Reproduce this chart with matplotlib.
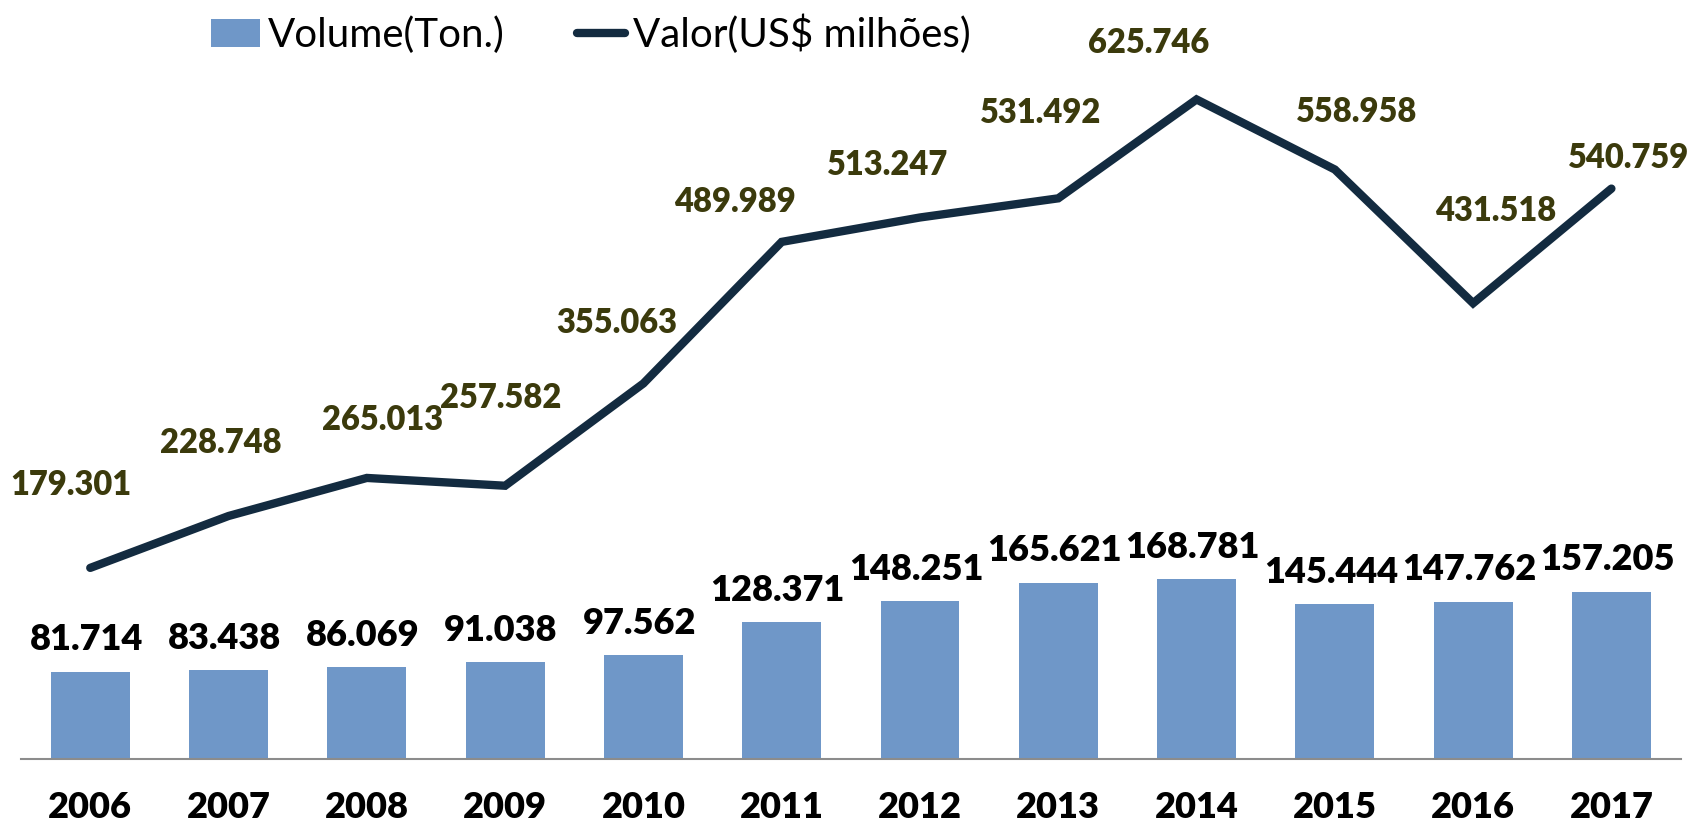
import numpy as np
import matplotlib.pyplot as plt
from matplotlib.lines import Line2D
from matplotlib.patches import Patch

plt.rcParams['font.family'] = ['Lato', 'DejaVu Sans']

# Dados
anos = ['2006', '2007', '2008', '2009', '2010', '2011',
        '2012', '2013', '2014', '2015', '2016', '2017']
volume = [81.714, 83.438, 86.069, 91.038, 97.562, 128.371,
          148.251, 165.621, 168.781, 145.444, 147.762, 157.205]
valor = [179.301, 228.748, 265.013, 257.582, 355.063, 489.989,
         513.247, 531.492, 625.746, 558.958, 431.518, 540.759]

# deslocamento dos rótulos da linha (pixels)
offsets = [(-19, 83), (-8, 73), (16, 58), (-4, 88), (-27, 60), (-47, 40),
           (-32, 52), (-18, 85), (-48, 56), (22, 58), (23, 92), (17, 31)]

cor_barra = '#6f97c8'
cor_linha = '#132b40'
cor_rotulo = '#3b3a0c'

fig = plt.figure(figsize=(16.89, 8.21), dpi=100)
ax = fig.add_axes([0.0125, 0.0755, 0.9825, 0.851])
x = np.arange(len(anos))

ax.bar(x, volume, width=0.57, color=cor_barra, zorder=2)
ax.set_ylim(0, 656)
ax.set_xlim(-0.5, len(anos) - 0.5)
for xi, v in zip(x, volume):
    ax.annotate(f'{v:.3f}', (xi, v), xytext=(-4, 32), textcoords='offset pixels',
                ha='center', va='center', fontsize=26, fontweight='heavy', color='black')

ax.set_xticks(x)
ax.set_xticklabels(anos, fontsize=26, fontweight='heavy')
ax.tick_params(axis='x', length=0, pad=23)
ax.set_yticks([])
for s in ['top', 'right', 'left']:
    ax.spines[s].set_visible(False)
ax.spines['bottom'].set_color('#8c8c8c')
ax.spines['bottom'].set_linewidth(1.5)

ax2 = ax.twinx()
ax2.plot(x, valor, color=cor_linha, linewidth=6, solid_capstyle='round',
         solid_joinstyle='miter', zorder=3)
ax2.set_ylim(-2.86, 663)
ax2.set_yticks([])
for s in ax2.spines.values():
    s.set_visible(False)
for xi, v, (dx, dy) in zip(x, valor, offsets):
    ax2.annotate(f'{v:.3f}', (xi, v), xytext=(dx, dy), textcoords='offset pixels',
                 ha='center', va='center', fontsize=23.5, fontweight='heavy', color=cor_rotulo)

handles = [Patch(facecolor=cor_barra, label='Volume(Ton.)'),
           Line2D([0], [0], color=cor_linha, linewidth=6, solid_capstyle='round',
                  label='Valor(US$ milhões)')]
fig.legend(handles=handles, loc='center', bbox_to_anchor=(0.35, 0.958), ncol=2,
           frameon=False, fontsize=29, handlelength=1.2, handletextpad=0.2,
           columnspacing=1.8)

fig.savefig('out.png', dpi=100)
